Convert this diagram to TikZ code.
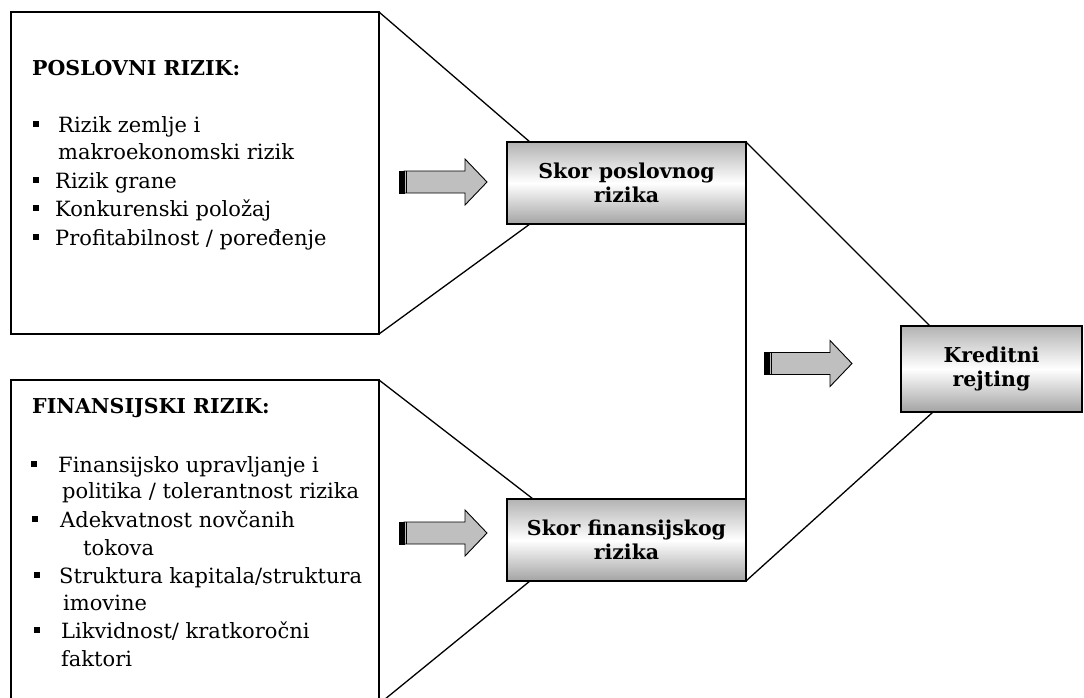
\documentclass[tikz,border=0pt]{standalone}
\usepackage{fontspec}
\setmainfont{DejaVu Serif}
\usetikzlibrary{calc}
\tikzset{
  bigbox/.style={draw, line width=2.3pt, fill=white, inner sep=0pt, outer sep=0pt},
  scorebox/.style={draw, line width=2.3pt, top color=black!30, bottom color=black!36, middle color=white,
    align=center, font=\fontsize{20.5}{24}\selectfont\bfseries, inner sep=0pt, outer sep=0pt},
  link/.style={line width=1.3pt},
  txt/.style={anchor=base west, inner sep=0pt, font=\fontsize{21}{24}\selectfont},
  ttl/.style={anchor=base west, inner sep=0pt, font=\fontsize{20.5}{24}\selectfont\bfseries},
  bul/.style={fill=black, inner sep=0pt, minimum size=6pt},
  arrbody/.style={fill=black!25, draw, line width=0.9pt, line join=miter},
}
\begin{document}
\begin{tikzpicture}[x=1pt, y=-1pt]
\clip (0,0) rectangle (1084,698);
\fill[white] (0,0) rectangle (1084,698);

% big boxes
\node[bigbox, minimum width=368pt, minimum height=322pt] (pos) at (195,173) {};
\node[bigbox, minimum width=368pt, minimum height=324pt] (fin) at (195,542) {};

% score boxes
\node[scorebox, minimum width=239pt, minimum height=82pt] (skp) at (626.5,183) {Skor poslovnog\\rizika};
\node[scorebox, minimum width=239pt, minimum height=82pt] (skf) at (626.5,540) {Skor finansijskog\\rizika};
\node[scorebox, minimum width=181pt, minimum height=86pt] (kr) at (991.5,369) {Kreditni\\rejting};

% connectors
\draw[link] (pos.north east) -- ($(skp.north west)!0.096!(skp.north east)$);
\draw[link] (pos.south east) -- ($(skp.south west)!0.096!(skp.south east)$);
\draw[link] (fin.north east) -- ($(skf.north west)!0.109!(skf.north east)$);
\draw[link] (fin.south east) -- ($(skf.south west)!0.096!(skf.south east)$);
\draw[link] (skp.north east) -- ($(kr.north west)!0.16!(kr.north east)$);
\draw[link] (skp.south east) -- (skf.north east);
\draw[link] (skf.south east) -- ($(kr.south west)!0.177!(kr.south east)$);

% block arrows
\foreach \x/\y in {399/182, 399/533, 764/363.5} {
  \filldraw[arrbody] (\x+5,\y-11) -- (\x+66,\y-11) -- (\x+66,\y-23) -- (\x+88,\y)
     -- (\x+66,\y+23) -- (\x+66,\y+11) -- (\x+5,\y+11) -- cycle;
  \fill (\x,\y-11.5) rectangle (\x+5.5,\y+11.5);
  \draw[line width=0.8pt] (\x+7.5,\y-11) -- (\x+7.5,\y+11);
}

% texts box 1
\node[ttl] (t1) at (32,76) {POSLOVNI RIZIK:};
\node[bul] (b11) at (36,124) {};
\node[txt] (t11) at (58,132) {Rizik zemlje i};
\node[txt] (t12) at (58,160) {makroekonomski rizik};
\node[bul] (b12) at (36,180) {};
\node[txt] (t13) at (55,188) {Rizik grane};
\node[bul] (b13) at (36,208) {};
\node[txt] (t14) at (55,216) {Konkurenski položaj};
\node[bul] (b14) at (36,237) {};
\node[txt] (t15) at (55,245) {Profitabilnost / poređenje};

% texts box 2
\node[ttl] (t2) at (32,413) {FINANSIJSKI RIZIK:};
\node[bul] (b21) at (34,464) {};
\node[txt] (t21) at (58,472) {Finansijsko upravljanje i};
\node[txt] (t22) at (62,498) {politika / tolerantnost rizika};
\node[bul] (b22) at (35,519) {};
\node[txt] (t23) at (60,527) {Adekvatnost novčanih};
\node[txt] (t24) at (83,555) {tokova};
\node[bul] (b23) at (37,575) {};
\node[txt] (t25) at (59,583) {Struktura kapitala/struktura};
\node[txt] (t26) at (63,610) {imovine};
\node[bul] (b24) at (37,630) {};
\node[txt] (t27) at (61,638) {Likvidnost/ kratkoročni};
\node[txt] (t28) at (61,666) {faktori};
\end{tikzpicture}
\end{document}
